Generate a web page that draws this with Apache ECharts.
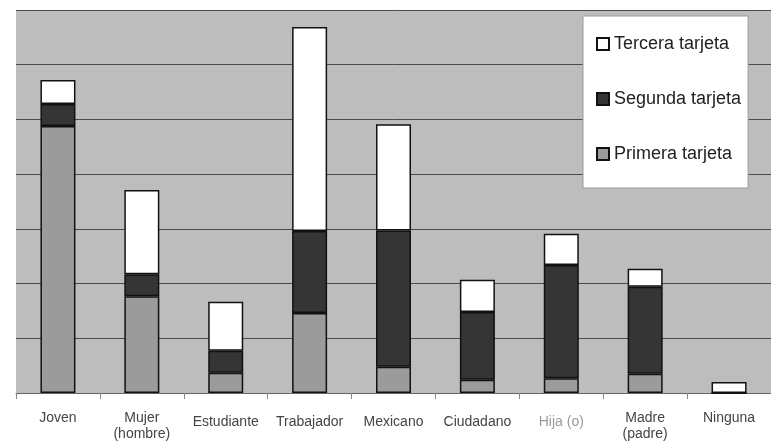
<!DOCTYPE html>
<html><head><meta charset="utf-8">
<script src="https://cdn.jsdelivr.net/npm/echarts@6/dist/echarts.min.js"></script>
<style>html,body{margin:0;padding:0;background:#fff}#c{width:771px;height:442px}</style>
</head><body><div id="c"></div>
<script>
const categories = ['Joven','Mujer\n(hombre)','Estudiante','Trabajador','Mexicano','Ciudadano','Hija (o)','Madre\n(padre)','Ninguna'];
const primera = [48.8, 17.7, 3.7, 14.6, 4.8, 2.4, 2.7, 3.5, 0];
const segunda = [4.0, 4.0, 4.0, 15.0, 24.9, 12.4, 20.7, 15.9, 0];
const tercera = [4.4, 15.4, 9.0, 37.3, 19.4, 5.9, 5.7, 3.3, 2.0];
const seriesNames = ['Primera tarjeta','Segunda tarjeta','Tercera tarjeta'];
const lowered = ['Estudiante','Trabajador','Mexicano','Ciudadano','Hija (o)'];

const chart = echarts.init(document.getElementById('c'), null, {renderer:'canvas'});
const barBase = {type:'bar', stack:'t', barWidth:35};
chart.setOption({
  animation:false,
  grid:{left:16, right:-5, top:10, bottom:49, show:true, backgroundColor:'#bdbdbd', borderWidth:0},
  legend:{
    orient:'vertical', left:583, top:16,
    data:[seriesNames[2], seriesNames[1], seriesNames[0]],
    backgroundColor:'#fff', borderColor:'#999', borderWidth:1,
    padding:[19, 7, 25, 13], itemGap:37, itemWidth:12, itemHeight:12, icon:'rect',
    textStyle:{fontFamily:'Liberation Sans, Arial', fontSize:18, color:'#222', lineHeight:18}
  },
  xAxis:{
    type:'category', data:categories,
    axisLine:{show:true, lineStyle:{color:'#666', width:1}},
    axisTick:{show:true, length:6, lineStyle:{color:'#888'}},
    axisLabel:{
      margin:17, fontFamily:'Liberation Sans, Arial', fontSize:14, color:'#444', lineHeight:16, interval:0,
      formatter:function(v){
        if (v === 'Hija (o)') return '{h|' + v + '}';
        if (lowered.indexOf(v) >= 0) return '{l|' + v + '}';
        return v;
      },
      rich:{
        l:{padding:[9,0,0,0], fontSize:14, color:'#444', fontFamily:'Liberation Sans, Arial'},
        h:{padding:[9,0,0,0], fontSize:14, color:'#999', fontFamily:'Liberation Sans, Arial'}
      }
    }
  },
  yAxis:{
    type:'value', min:0, max:70, interval:10,
    axisLabel:{show:false}, axisTick:{show:false}, axisLine:{show:false},
    splitLine:{show:true, lineStyle:{color:'#4a4a4a', width:1}}
  },
  series:[
    Object.assign({}, barBase, {name:seriesNames[0], data:primera, itemStyle:{color:'#9b9b9b', borderColor:'#111', borderWidth:1.5}}),
    Object.assign({}, barBase, {name:seriesNames[1], data:segunda, itemStyle:{color:'#353535', borderColor:'#111', borderWidth:1.5}}),
    Object.assign({}, barBase, {name:seriesNames[2], data:tercera, itemStyle:{color:'#ffffff', borderColor:'#111', borderWidth:1.5}})
  ]
});
</script></body></html>
